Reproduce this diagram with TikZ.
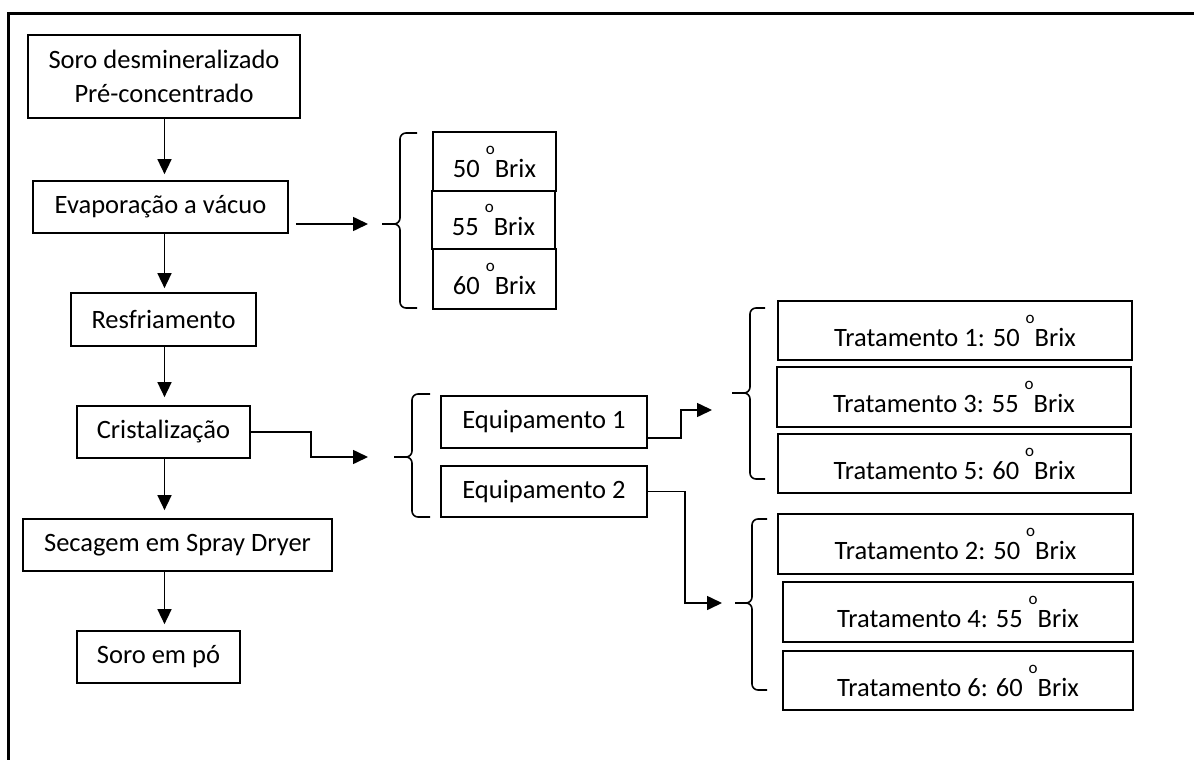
\documentclass[tikz,border=0pt]{standalone}
\usepackage{fontspec}
\setmainfont{Carlito}
\usetikzlibrary{arrows.meta}
\newcommand{\dg}{\raisebox{23pt}{\fontsize{17}{17}\selectfont o}}
\begin{document}
\begin{tikzpicture}[x=1pt,y=-1pt,
  box/.style={draw,line width=1.7pt,inner sep=0pt,align=center,font=\fontsize{26.5}{34}\selectfont},
  arr/.style={line width=1.6pt,-{Triangle[length=15pt,width=14pt]}},
  brc/.style={line width=1.6pt,rounded corners=6pt}]
\useasboundingbox (0,0) rectangle (1194,760);
\draw[line width=2.8pt] (8.5,760) -- (8.5,13.5) -- (1194,13.5);
% main column
\node[box,minimum width=272pt,minimum height=83pt] (b1) at (164,76.5) {Soro desmineralizado\\Pré-concentrado};
\node[box,minimum width=255pt,minimum height=52pt] (b2) at (160.5,207) {Evaporação a vácuo};
\node[box,minimum width=185pt,minimum height=53pt] (b3) at (163.5,319.5) {Resfriamento};
\node[box,minimum width=173pt,minimum height=52pt] (b4) at (163.5,432) {Cristalização};
\node[box,minimum width=309pt,minimum height=52pt] (b5) at (177.5,545) {Secagem em Spray Dryer};
\node[box,minimum width=163pt,minimum height=52pt] (b6) at (158.5,657) {Soro em pó};
\coordinate (X) at (164.5,0);
\draw[arr,shorten >=6pt] (b1.south -| X) -- (b2.north -| X);
\draw[arr,shorten >=4pt] (b2.south -| X) -- (b3.north -| X);
\draw[arr,shorten >=8pt] (b3.south -| X) -- (b4.north -| X);
\draw[arr,shorten >=8pt] (b4.south -| X) -- (b5.north -| X);
\draw[arr,shorten >=6pt] (b5.south -| X) -- (b6.north -| X);
% brix boxes
\node[box,minimum width=123pt,minimum height=59pt] (k1) at (494.5,161.5) {50 \dg Brix};
\node[box,minimum width=123pt,minimum height=58pt] (k2) at (493.5,220) {55 \dg Brix};
\node[box,minimum width=123pt,minimum height=60pt] (k3) at (494.5,279) {60 \dg Brix};
% equipment
\node[box,minimum width=206pt,minimum height=52pt] (e1) at (544,422) {Equipamento 1};
\node[box,minimum width=206pt,minimum height=51pt] (e2) at (544,491.5) {Equipamento 2};
% treatments
\node[box,minimum width=354pt,minimum height=59pt] (t1) at (955,330.5) {Tratamento 1: 50 \dg Brix};
\node[box,minimum width=354pt,minimum height=60pt] (t3) at (954,397) {Tratamento 3: 55 \dg Brix};
\node[box,minimum width=353pt,minimum height=59pt] (t5) at (954.5,463.5) {Tratamento 5: 60 \dg Brix};
\node[box,minimum width=355pt,minimum height=60pt] (t2) at (955.5,544) {Tratamento 2: 50 \dg Brix};
\node[box,minimum width=350pt,minimum height=60pt] (t4) at (958,612) {Tratamento 4: 55 \dg Brix};
\node[box,minimum width=350pt,minimum height=59pt] (t6) at (958,680.5) {Tratamento 6: 60 \dg Brix};
% braces
\coordinate (br1) at (382,224);
\draw[brc] (417,133) -- (400,133) -- (400,224) -- (br1);
\draw[brc] (br1) -- (400,224) -- (400,308) -- (417,308);
\coordinate (br2) at (394,457);
\draw[brc] (430,394) -- (412,394) -- (412,457) -- (br2);
\draw[brc] (br2) -- (412,457) -- (412,517) -- (430,517);
\coordinate (br3) at (732,393);
\draw[brc] (765,308) -- (750,308) -- (750,393) -- (br3);
\draw[brc] (br3) -- (750,393) -- (750,479) -- (765,479);
\coordinate (br4) at (735,603);
\draw[brc] (767,519) -- (752,519) -- (752,603) -- (br4);
\draw[brc] (br4) -- (752,603) -- (752,690) -- (767,690);
% connectors
\draw[arr] ([xshift=7pt]b2.east |- br1) -- ([xshift=-14pt]br1);
\draw[arr] (b4.east) -- ++(60,0) |- ([xshift=-26pt]br2);
\coordinate (a3) at (712,410);
\draw[arr] ([yshift=-16pt]e1.east) -- ++(33,0) |- (a3);
\coordinate (a4) at (722,603);
\draw[arr] (e2.east) -- ++(37,0) |- (a4);
\end{tikzpicture}
\end{document}
